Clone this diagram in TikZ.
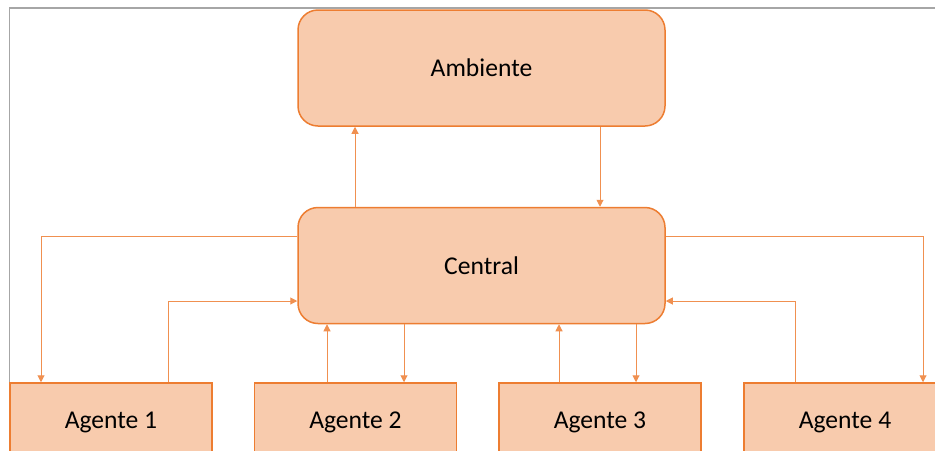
\documentclass[tikz,border=0pt]{standalone}
\usepackage{fontspec}
\setmainfont{Carlito}
\usetikzlibrary{calc,arrows.meta}
\definecolor{boxfill}{HTML}{F8CBAD}
\definecolor{boxline}{HTML}{ED7D31}
\definecolor{framegray}{HTML}{A6A6A6}
\tikzset{
  bloco/.style={draw=boxline, fill=boxfill, line width=0.75pt, rounded corners=10pt,
    minimum width=183.5pt, minimum height=58pt, inner sep=0pt, font=\fontsize{12.8}{15}\selectfont},
  agente/.style={draw=boxline, fill=boxfill, line width=0.75pt,
    minimum width=101pt, minimum height=39pt, inner sep=0pt, font=\fontsize{12.8}{15}\selectfont},
  seta/.style={draw=boxline!85, line width=0.5pt, -{Triangle[width=3.5pt,length=3.5pt]}}
}

\begin{document}
\begin{tikzpicture}[x=0.5pt,y=-0.5pt]
\clip (0,0) rectangle (935,450);
\fill[white] (0,0) rectangle (935,450);
\draw[framegray, line width=0.9pt] (935,8) -- (9.5,8) -- (9.5,450);

\node[bloco] (ambiente) at (481.5,68) {Ambiente};
\node[bloco] (central) at (481.5,265.5) {Central};

\node[agente] (a1) at (111,422) {Agente 1};
\node[agente] (a2) at (355.5,422) {Agente 2};
\node[agente] (a3) at (600,422) {Agente 3};
\node[agente] (a4) at (845,422) {Agente 4};

% central <-> ambiente
\draw[seta] ($(central.north)+(-126.5,0)$) -- ($(ambiente.south)+(-126.5,0)$);
\draw[seta] ($(ambiente.south)+(118.5,0)$) -- ($(central.north)+(118.5,0)$);

% agentes laterais
\draw[seta] ($(central.west)+(0,-29.5)$) -| ($(a1.north)+(-70,0)$);
\draw[seta] ($(a1.north)+(57,0)$) |- ($(central.west)+(0,35.5)$);
\draw[seta] ($(central.east)+(0,-29.5)$) -| ($(a4.north)+(78,0)$);
\draw[seta] ($(a4.north)+(-50,0)$) |- ($(central.east)+(0,35.5)$);

% agentes centrais
\draw[seta] ($(a2.north)+(-28.5,0)$) -- ($(central.south)+(-154.5,0)$);
\draw[seta] ($(central.south)+(-77.5,0)$) -- ($(a2.north)+(48.5,0)$);
\draw[seta] ($(a3.north)+(-41,0)$) -- ($(central.south)+(77.5,0)$);
\draw[seta] ($(central.south)+(154.5,0)$) -- ($(a3.north)+(36,0)$);

\end{tikzpicture}
\end{document}
